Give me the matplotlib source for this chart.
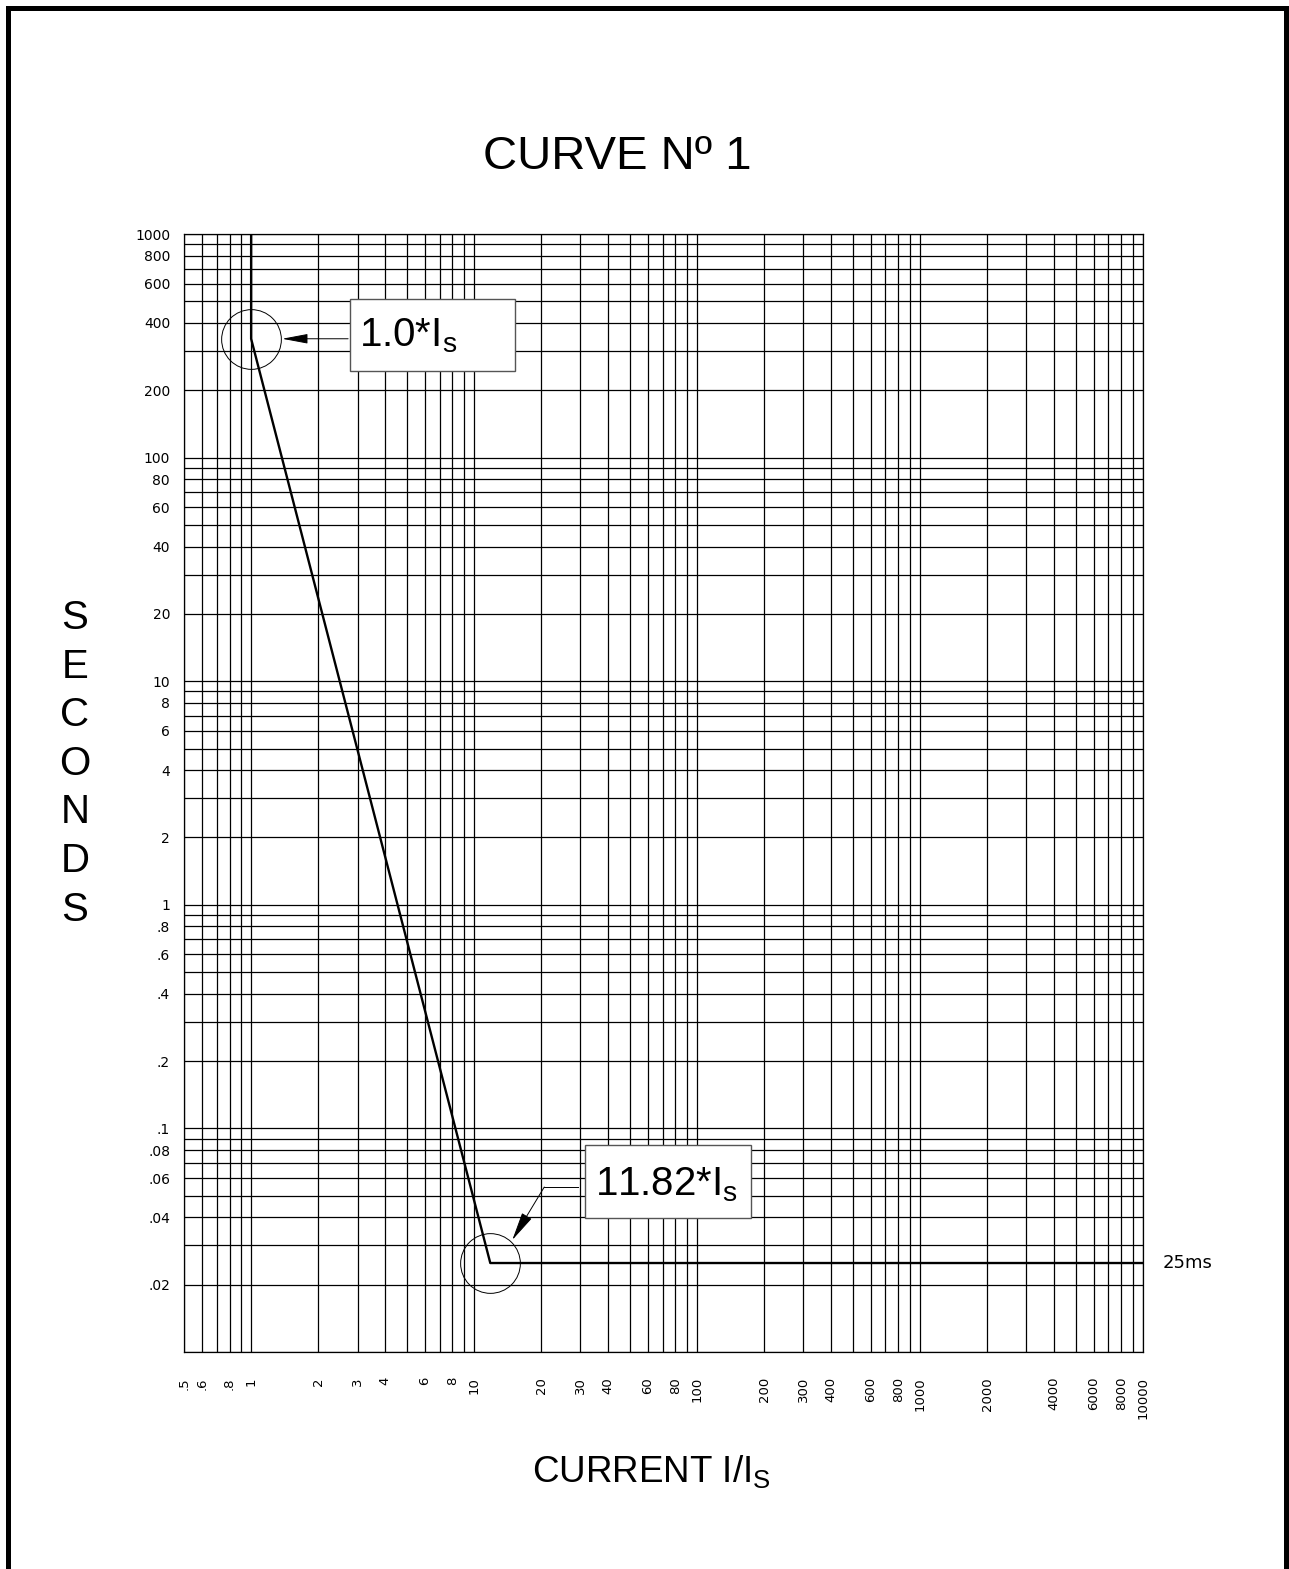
import matplotlib
matplotlib.use("Agg")
import math
import matplotlib.pyplot as plt
import matplotlib.ticker as mticker
from matplotlib.patches import Rectangle
from matplotlib.lines import Line2D
from matplotlib.transforms import IdentityTransform

W, H, DPI = 1289, 1569, 100

# --- data ---
curve_x = [1, 1, 11.82, 10000]
curve_y = [1000, 340, 0.025, 0.025]
knee_x = [1, 11.82]
knee_y = [340, 0.025]
knee_labels = ["1.0*I$_\\mathrm{s}$", "11.82*I$_\\mathrm{s}$"]
flat_label = "25ms"
flat_level = 0.025

x_ticks = [0.5, 0.6, 0.8, 1, 2, 3, 4, 6, 8, 10, 20, 30, 40, 60, 80, 100,
           200, 300, 400, 600, 800, 1000, 2000, 4000, 6000, 8000, 10000]
x_tick_labels = [".5", ".6", ".8", "1", "2", "3", "4", "6", "8", "10", "20", "30",
                 "40", "60", "80", "100", "200", "300", "400", "600", "800",
                 "1000", "2000", "4000", "6000", "8000", "10000"]
y_ticks = [1000, 800, 600, 400, 200, 100, 80, 60, 40, 20, 10, 8, 6, 4, 2,
           1, 0.8, 0.6, 0.4, 0.2, 0.1, 0.08, 0.06, 0.04, 0.02]
y_tick_labels = ["1000", "800", "600", "400", "200", "100", "80", "60", "40",
                 "20", "10", "8", "6", "4", "2", "1", ".8", ".6", ".4", ".2",
                 ".1", ".08", ".06", ".04", ".02"]


def log_grid(lo, hi, labeled):
    """1..9 per decade, minus the labelled ones."""
    vals = []
    for e in range(-3, 5):
        for m in range(1, 10):
            v = m * 10.0 ** e
            if lo * 0.999 <= v <= hi * 1.001:
                if not any(math.isclose(v, t, rel_tol=1e-6) for t in labeled):
                    vals.append(v)
    return vals


plt.rcParams["mathtext.fontset"] = "custom"
plt.rcParams["mathtext.rm"] = "Liberation Sans"

fig = plt.figure(figsize=(W / DPI, H / DPI), dpi=DPI)
ax = fig.add_axes([184 / W, 1 - 1352 / H, (1143 - 184) / W, (1352 - 234) / H])
ax.set_xscale("log")
ax.set_yscale("log")
ax.set_xlim(0.5, 10000)
ax.set_ylim(0.01, 1000)

ax.xaxis.set_major_locator(mticker.FixedLocator(x_ticks))
ax.xaxis.set_major_formatter(mticker.FixedFormatter(x_tick_labels))
ax.xaxis.set_minor_locator(mticker.FixedLocator(log_grid(0.5, 10000, x_ticks)))
ax.xaxis.set_minor_formatter(mticker.NullFormatter())
ax.yaxis.set_major_locator(mticker.FixedLocator(y_ticks))
ax.yaxis.set_major_formatter(mticker.FixedFormatter(y_tick_labels))
ax.yaxis.set_minor_locator(mticker.FixedLocator(log_grid(0.01, 1000, y_ticks)))
ax.yaxis.set_minor_formatter(mticker.NullFormatter())

ax.grid(which="both", color="black", lw=0.9)
ax.tick_params(which="both", length=0)
ax.tick_params(axis="x", labelrotation=90, pad=18, labelsize=9.5)
ax.tick_params(axis="y", pad=10, labelsize=10)
for s in ax.spines.values():
    s.set_linewidth(0.9)

# the curve
ax.plot(curve_x, curve_y, color="black", lw=1.7, zorder=4)
ax.plot(knee_x, knee_y, "o", ms=43, mfc="none", mec="black", mew=0.7, zorder=4)

ax.text(1 + 20 / 959, flat_level, flat_label, transform=ax.get_yaxis_transform(),
        ha="left", va="center", fontsize=13)

# annotation boxes (pixel offsets from the knee points)
fig.canvas.draw()
p1 = ax.transData.transform((knee_x[0], knee_y[0]))
p2 = ax.transData.transform((knee_x[1], knee_y[1]))

fig.add_artist(Rectangle((p1[0] + 99, p1[1] - 32), 165, 72, transform=IdentityTransform(),
                         fc="white", ec="#555555", lw=1, zorder=5))
fig.text(p1[0] + 108, p1[1] - 8, knee_labels[0], transform=IdentityTransform(),
         fontsize=29, family="Liberation Sans", ha="left", va="baseline", zorder=6)
ax.annotate("", xy=(p1[0] + 31, p1[1]), xytext=(p1[0] + 97, p1[1]),
            xycoords="figure pixels", textcoords="figure pixels",
            arrowprops=dict(arrowstyle="-|>,head_length=1.6,head_width=0.3",
                            mutation_scale=10, color="black", lw=0.7,
                            shrinkA=0, shrinkB=0))

fig.add_artist(Rectangle((p2[0] + 95, p2[1] + 45), 166, 73, transform=IdentityTransform(),
                         fc="white", ec="#555555", lw=1, zorder=5))
fig.text(p2[0] + 105, p2[1] + 68, knee_labels[1], transform=IdentityTransform(),
         fontsize=29, family="Liberation Sans", ha="left", va="baseline", zorder=6)
fig.add_artist(Line2D([p2[0] + 88, p2[0] + 54], [p2[1] + 76, p2[1] + 76],
                      transform=IdentityTransform(), color="black", lw=0.7))
ax.annotate("", xy=(p2[0] + 22, p2[1] + 23), xytext=(p2[0] + 54, p2[1] + 76),
            xycoords="figure pixels", textcoords="figure pixels",
            arrowprops=dict(arrowstyle="-|>,head_length=1.8,head_width=0.35",
                            mutation_scale=10, color="black", lw=0.7,
                            shrinkA=0, shrinkB=0))

# titles
fig.text(617 / W, 1 - 157 / H, "CURVE Nº 1", fontsize=34, family="Liberation Sans",
         ha="center", va="center")
fig.text(651 / W, 1 - 1472 / H, "CURRENT I/I$_\\mathrm{S}$", fontsize=26.5,
         family="Liberation Sans", ha="center", va="center")
for i, ch in enumerate("SECONDS"):
    fig.text(75 / W, 1 - (618 + 48.6 * i) / H, ch, fontsize=29,
             family="Liberation Sans", ha="center", va="center")

# page frame
fig.add_artist(Line2D([7.5, 7.5, 1285.5, 1285.5], [0, H - 7.5, H - 7.5, 0],
                      transform=IdentityTransform(), color="black", lw=3.6,
                      solid_joinstyle="miter"))

fig.savefig("out.png", dpi=DPI)
